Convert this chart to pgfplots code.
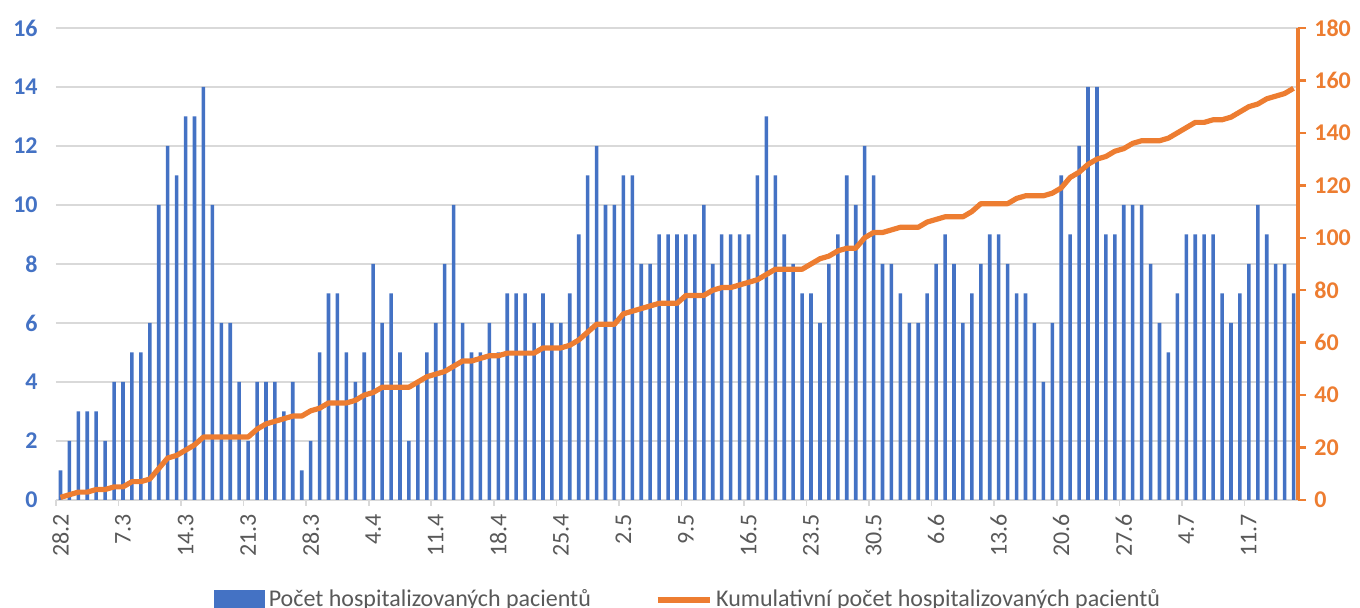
\documentclass[border=0pt]{standalone}
\usepackage{pgfplots}
\pgfplotsset{compat=1.18}
\usepackage{pgfplotstable}
\usepackage{fontspec}
\setmainfont{Carlito}
\definecolor{barblue}{HTML}{4472C4}
\definecolor{lineor}{HTML}{ED7D31}
\definecolor{gridgray}{HTML}{D9D9D9}
\definecolor{labgray}{HTML}{595959}

\pgfplotstableread{
x bar cum
0 1 1
1 2 2
2 3 3
3 3 3
4 3 4
5 2 4
6 4 5
7 4 5
8 5 7
9 5 7
10 6 8
11 10 12
12 12 16
13 11 17
14 13 19
15 13 21
16 14 24
17 10 24
18 6 24
19 6 24
20 4 24
21 2 24
22 4 27
23 4 29
24 4 30
25 3 31
26 4 32
27 1 32
28 2 34
29 5 35
30 7 37
31 7 37
32 5 37
33 4 38
34 5 40
35 8 41
36 6 43
37 7 43
38 5 43
39 2 43
40 4 45
41 5 47
42 6 48
43 8 49
44 10 51
45 6 53
46 5 53
47 5 54
48 6 55
49 5 55
50 7 56
51 7 56
52 7 56
53 6 56
54 7 58
55 6 58
56 6 58
57 7 59
58 9 61
59 11 64
60 12 67
61 10 67
62 10 67
63 11 71
64 11 72
65 8 73
66 8 74
67 9 75
68 9 75
69 9 75
70 9 78
71 9 78
72 10 78
73 8 80
74 9 81
75 9 81
76 9 82
77 9 83
78 11 84
79 13 86
80 11 88
81 9 88
82 8 88
83 7 88
84 7 90
85 6 92
86 8 93
87 9 95
88 11 96
89 10 96
90 12 100
91 11 102
92 8 102
93 8 103
94 7 104
95 6 104
96 6 104
97 7 106
98 8 107
99 9 108
100 8 108
101 6 108
102 7 110
103 8 113
104 9 113
105 9 113
106 8 113
107 7 115
108 7 116
109 6 116
110 4 116
111 6 117
112 11 119
113 9 123
114 12 125
115 14 128
116 14 130
117 9 131
118 9 133
119 10 134
120 10 136
121 10 137
122 8 137
123 6 137
124 5 138
125 7 140
126 9 142
127 9 144
128 9 144
129 9 145
130 7 145
131 6 146
132 7 148
133 8 150
134 10 151
135 9 153
136 8 154
137 8 155
138 7 157
}\datatable

\begin{document}
\fontsize{12}{14.4}\selectfont
\begin{tikzpicture}
\pgfplotsset{
  common/.style={
    scale only axis, width=621pt, height=236pt,
    xmin=-0.5, xmax=138.5,
    /pgf/number format/assume math mode=true,
  }
}
\begin{axis}[common, name=ax,
  ybar, bar width=0.4,
  ymin=0, ymax=16, ytick={0,2,...,16},
  ymajorgrids, grid style={gridgray, line width=0.7pt},
  axis y line*=left, axis x line*=bottom,
  y axis line style={draw=none},
  x axis line style={gridgray, line width=0.8pt, -},
  xtick={0,7,...,133},
  xticklabels={28.2,7.3,14.3,21.3,28.3,4.4,11.4,18.4,25.4,2.5,9.5,16.5,23.5,30.5,6.6,13.6,20.6,27.6,4.7,11.7},
  minor xtick={-0.5,6.5,...,132.5},
  major tick length=0pt, minor tick length=3pt,
  tick align=outside,
  minor tick style={gridgray, line width=0.8pt},
  xticklabel style={rotate=90, anchor=east, text=labgray},
  xticklabel shift=3pt,
  yticklabel style={text=barblue, font=\bfseries},
  yticklabel shift=5pt,
]
\addplot[fill=barblue, draw=none] table[x=x, y=bar]{\datatable};
\end{axis}
\begin{axis}[common,
  ymin=0, ymax=180, ytick={0,20,...,180},
  axis y line*=right, axis x line=none,
  y axis line style={lineor, line width=1.6pt, -},
  ytick style={lineor, line width=1.2pt},
  major tick length=4pt, tick align=outside,
  yticklabel style={text=lineor, font=\bfseries},
  legend columns=2,
  legend style={draw=none, fill=none, at={(0.5,0)}, anchor=center,
    xshift=6pt, yshift=-50pt,
    text=labgray,
    /tikz/every even column/.append style={column sep=30pt}},
]
\addlegendimage{legend image code/.code={\fill[barblue] (0pt,-5pt) rectangle (25pt,5pt);}}
\addlegendentry{Počet hospitalizovaných pacientů}
\addplot[lineor, line width=2.6pt, line join=round,
  legend image code/.code={\draw[lineor, line width=2.6pt] (0pt,0pt) -- (26pt,0pt);}]
  table[x=x, y=cum]{\datatable};
\addlegendentry{Kumulativní počet hospitalizovaných pacientů}
\end{axis}
\pgfresetboundingbox
\path[use as bounding box] ([xshift=-28pt,yshift=-54pt]ax.south west) rectangle ([xshift=31pt,yshift=14pt]ax.north east);
\end{tikzpicture}
\end{document}
